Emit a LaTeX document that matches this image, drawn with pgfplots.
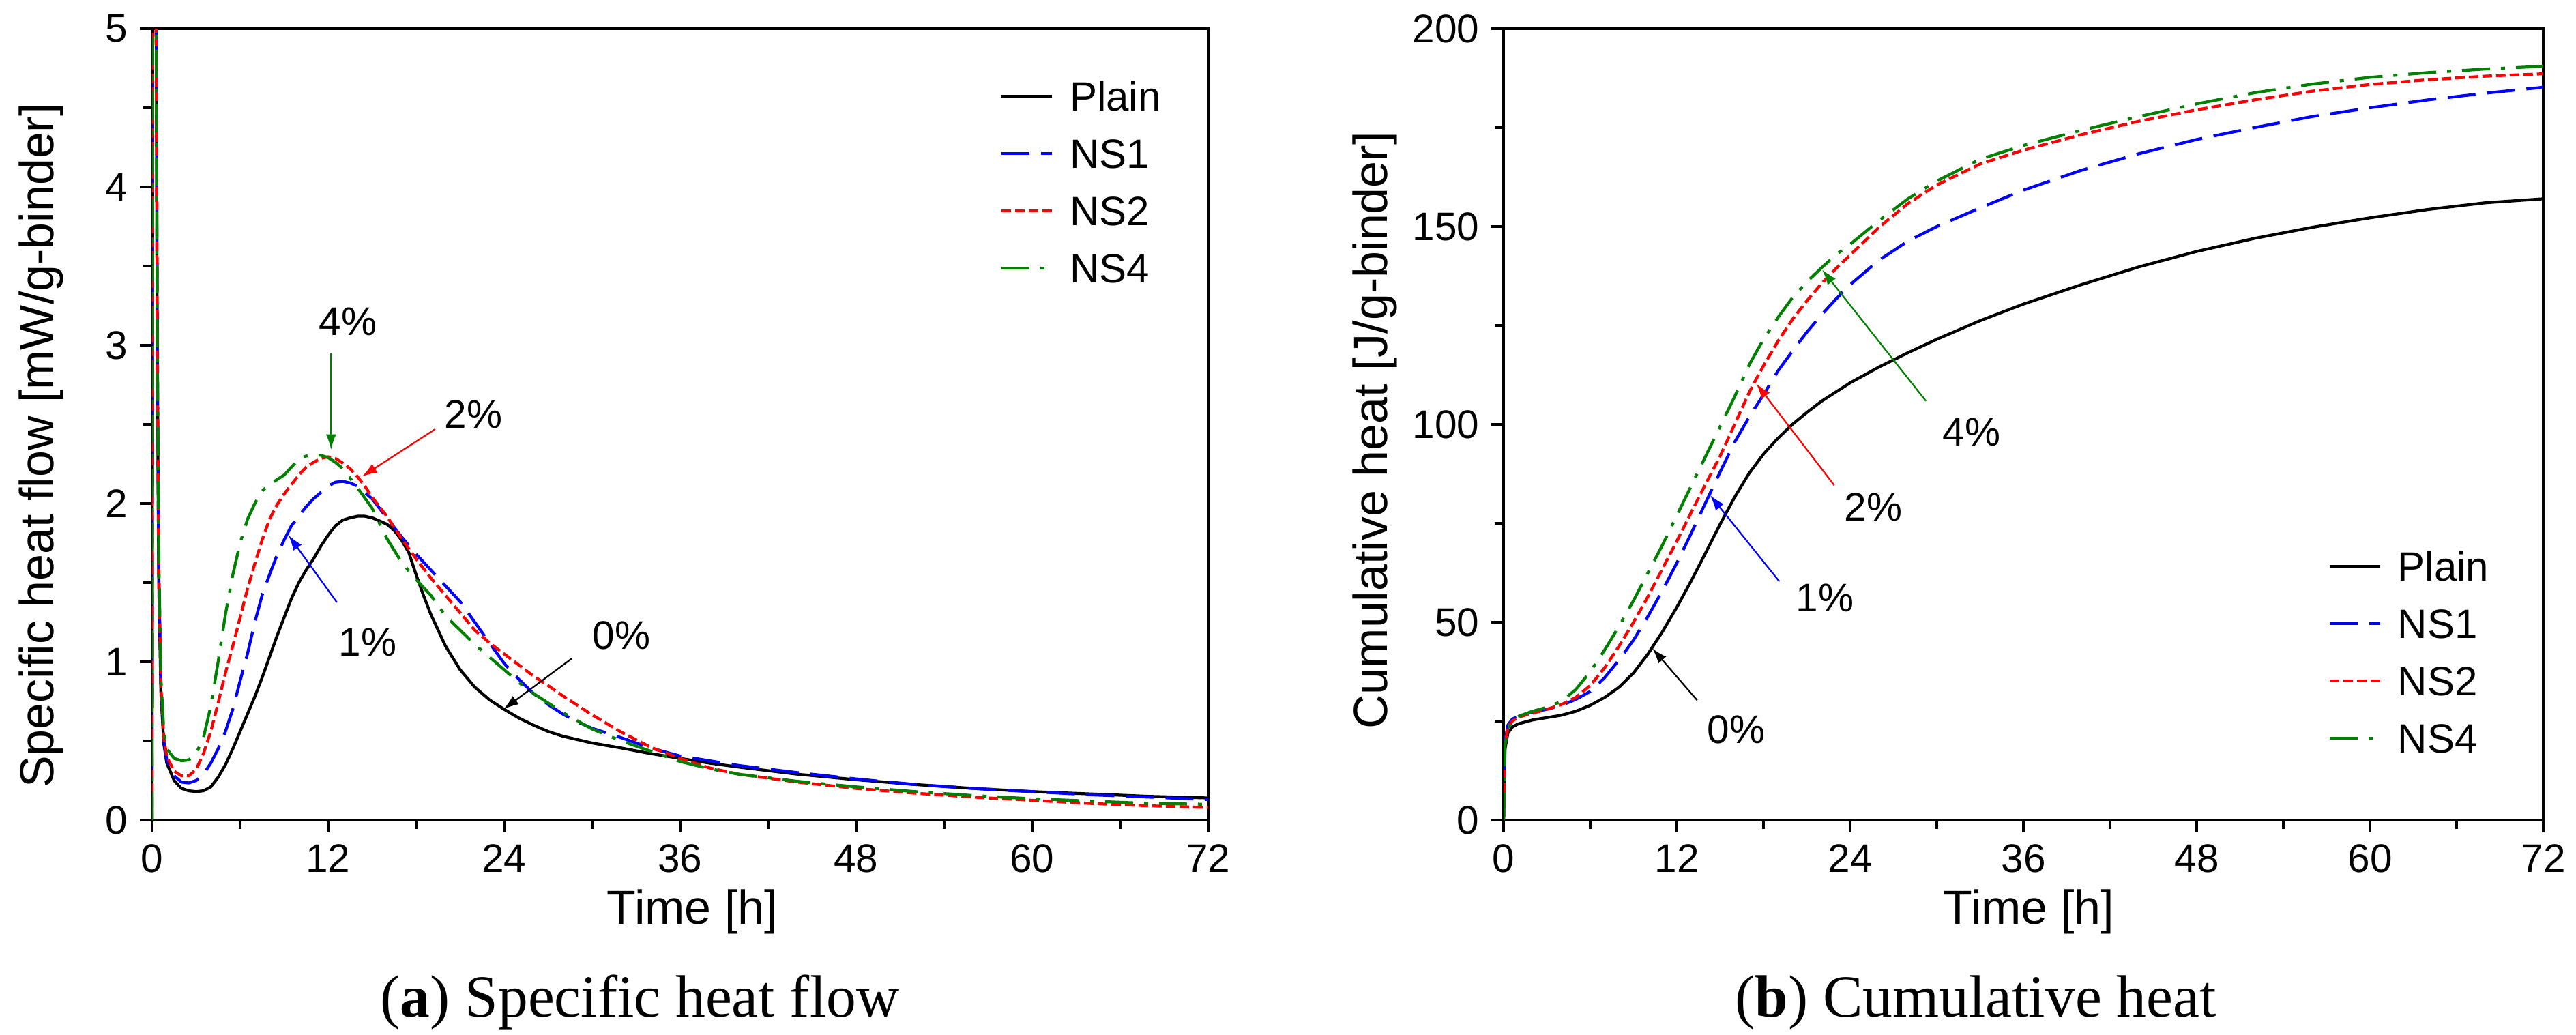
\documentclass[border=0pt]{standalone}
\usepackage{pgfplots}
\pgfplotsset{compat=1.18}
\usepackage{fontspec}
\setmainfont{Liberation Sans}
\newfontfamily\capfont{Liberation Serif}
\usetikzlibrary{arrows.meta}

\definecolor{cgreen}{RGB}{0,128,0}
\definecolor{cblue}{RGB}{0,0,255}
\definecolor{cred}{RGB}{255,0,0}

\tikzset{
  annot/.style={line width=0.45pt, -{Latex[length=4.5pt,width=3pt]}},
  pct/.style={font=\fontsize{11.7}{14}\selectfont},
}
\pgfplotsset{
  myaxis/.style={
    scale only axis,
    xmin=0, xmax=72,
    xtick={0,12,...,72},
    minor x tick num=1,
    minor y tick num=1,
    tick align=outside,
    tick pos=left,
    major tick length=3.6pt,
    minor tick length=2.6pt,
    axis line style={line width=0.9pt},
    every tick/.style={line width=0.9pt, black},
    tick label style={font=\fontsize{11.7}{14}\selectfont},
    /pgf/number format/assume math mode=true,
    legend cell align=left,
    legend style={draw=none, fill=none, inner sep=0pt, outer sep=0pt,
      row sep=8.2pt, column sep=4.8pt, anchor=north west,
      font=\fontsize{12}{14}\selectfont,
      nodes={inner sep=0pt, text height=8.6pt, text depth=0pt}},
  },
  plainst/.style={black, line width=0.85pt},
  nsone/.style={cblue, line width=0.85pt, dash pattern=on 8.2pt off 3.4pt},
  nstwo/.style={cred, line width=0.85pt, dash pattern=on 2.8pt off 1.2pt},
  nsfour/.style={cgreen, line width=0.85pt, dash pattern=on 8.2pt off 3.2pt on 1.2pt off 3.2pt},
}
\pgfplotsset{legend image code/.code={\draw[#1] (0pt,0pt) -- (14.8pt,0pt);}}

\begin{document}
\begin{tikzpicture}
\path[use as bounding box] (0,0) rectangle (755.2pt,303.2pt);

% ---------------- (a) Specific heat flow ----------------
\begin{axis}[myaxis,
  at={(44.6pt,62.8pt)}, anchor=south west,
  width=309.6pt, height=232pt,
  ymin=0, ymax=5, ytick={0,1,2,3,4,5},
  legend style={at={(axis cs:57.81,4.666)}},
]
\addplot[plainst] coordinates {(0,0) (0.05,6) (0.25,6) (0.35,3) (0.45,1.5) (0.6,0.8) (0.8,0.48) (1,0.36) (1.5,0.25) (2,0.2) (2.5,0.185) (3,0.18) (3.5,0.185) (4,0.21) (4.5,0.27) (5,0.35) (5.5,0.45) (6,0.56) (6.5,0.67) (7,0.78) (7.5,0.9) (8,1.03) (8.5,1.16) (9,1.28) (9.5,1.4) (10,1.5) (10.5,1.58) (11,1.65) (11.5,1.73) (12,1.8) (12.5,1.86) (13,1.895) (13.5,1.91) (14,1.92) (14.5,1.92) (15,1.91) (15.5,1.89) (16,1.87) (16.5,1.83) (17,1.77) (17.5,1.69) (18,1.55) (18.5,1.42) (19,1.3) (19.5,1.2) (20,1.1) (21,0.95) (22,0.84) (23,0.76) (24,0.7) (25,0.645) (26,0.6) (27,0.56) (28,0.53) (30,0.487) (32,0.455) (34,0.42) (36,0.39) (38,0.36) (40,0.335) (44,0.29) (48,0.255) (52,0.225) (56,0.2) (60,0.18) (64,0.165) (68,0.15) (72,0.14)};
\addlegendentry{Plain}
\addplot[nsone] coordinates {(0,0) (0.05,6) (0.25,6) (0.35,3) (0.45,1.6) (0.6,0.85) (0.8,0.5) (1,0.38) (1.5,0.28) (2,0.24) (2.5,0.235) (3,0.25) (3.5,0.29) (4,0.36) (4.5,0.45) (5,0.56) (5.5,0.7) (6,0.88) (6.5,1.05) (7,1.25) (7.5,1.42) (8,1.55) (8.5,1.67) (9,1.77) (9.5,1.86) (10,1.92) (10.5,1.98) (11,2.03) (11.5,2.07) (12,2.11) (12.5,2.135) (13,2.14) (13.5,2.13) (14,2.11) (14.5,2.07) (15,2.03) (16,1.91) (17,1.79) (18,1.68) (19,1.58) (20,1.48) (21,1.38) (22,1.25) (23,1.12) (24,0.99) (25,0.89) (26,0.8) (27,0.73) (28,0.67) (29,0.62) (30,0.58) (32,0.52) (34,0.455) (36,0.405) (38,0.375) (40,0.345) (44,0.3) (48,0.26) (52,0.225) (56,0.2) (60,0.18) (64,0.16) (68,0.145) (72,0.13)};
\addlegendentry{NS1}
\addplot[nstwo] coordinates {(0,0) (0.05,6) (0.25,6) (0.35,3) (0.45,1.6) (0.6,0.85) (0.8,0.52) (1,0.4) (1.5,0.31) (2,0.28) (2.5,0.28) (3,0.32) (3.5,0.42) (4,0.56) (4.5,0.74) (5,0.93) (5.5,1.1) (6,1.28) (6.5,1.46) (7,1.62) (7.5,1.77) (8,1.9) (8.5,1.99) (9,2.06) (9.5,2.12) (10,2.18) (10.5,2.23) (11,2.26) (11.5,2.285) (12,2.295) (12.5,2.285) (13,2.255) (13.5,2.22) (14,2.17) (14.5,2.11) (15,2.04) (16,1.92) (17,1.78) (18,1.65) (19,1.53) (20,1.42) (21,1.31) (22,1.2) (23,1.12) (24,1.05) (25,0.98) (26,0.91) (27,0.85) (28,0.785) (30,0.665) (32,0.555) (34,0.46) (36,0.39) (38,0.33) (40,0.29) (44,0.24) (48,0.2) (52,0.17) (56,0.145) (60,0.125) (64,0.105) (68,0.09) (72,0.08)};
\addlegendentry{NS2}
\addplot[nsfour] coordinates {(0,0) (0.05,6) (0.25,6) (0.35,3) (0.45,1.7) (0.6,0.9) (0.8,0.56) (1,0.45) (1.5,0.39) (2,0.375) (2.5,0.38) (3,0.42) (3.5,0.52) (4,0.72) (4.5,1.0) (5,1.3) (5.5,1.55) (6,1.75) (6.5,1.9) (7,2.0) (7.5,2.08) (8,2.12) (8.5,2.15) (9,2.18) (9.5,2.23) (10,2.28) (10.5,2.3) (11,2.305) (11.5,2.305) (12,2.29) (12.5,2.26) (13,2.22) (14,2.1) (15,1.97) (16,1.78) (17,1.63) (18,1.52) (19,1.42) (20,1.29) (21,1.2) (22,1.11) (23,1.03) (24,0.95) (25,0.87) (26,0.8) (27,0.74) (28,0.68) (30,0.575) (32,0.5) (34,0.435) (36,0.37) (38,0.325) (40,0.29) (44,0.245) (48,0.21) (52,0.18) (56,0.155) (60,0.135) (64,0.12) (68,0.105) (72,0.1)};
\addlegendentry{NS4}
\draw[annot, cgreen] (axis cs:12.2,2.95) -- (axis cs:12.2,2.34);
\node[pct] at (axis cs:13.35,3.15) {4\%};
\draw[annot, cred] (axis cs:19.3,2.47) -- (axis cs:14.3,2.17);
\node[pct] at (axis cs:21.9,2.565) {2\%};
\draw[annot, cblue] (axis cs:12.6,1.375) -- (axis cs:9.3,1.80);
\node[pct] at (axis cs:14.7,1.125) {1\%};
\draw[annot, black] (axis cs:28.6,1.02) -- (axis cs:23.95,0.70);
\node[pct] at (axis cs:32.0,1.168) {0\%};
\end{axis}

% ---------------- (b) Cumulative heat ----------------
\begin{axis}[myaxis,
  at={(440.8pt,62.8pt)}, anchor=south west,
  width=304.8pt, height=232pt,
  ymin=0, ymax=200, ytick={0,50,100,150,200},
  legend style={at={(axis cs:57.1,67.8)}},
]
\addplot[plainst] coordinates {(0,0) (0.1,18) (0.3,22) (0.6,23.5) (1,24.3) (2,25.3) (3,25.9) (4,26.5) (5,27.5) (6,29) (7,31) (8,33.6) (9,37.2) (10,42) (11,47.6) (12,53.8) (13,60.5) (14,67.6) (15,74.8) (16,81.6) (17,87.6) (18,92.5) (19,96.5) (20,100) (21,103) (22,105.8) (24,110.5) (26,114.5) (28,118.1) (30,121.5) (33,126.2) (36,130.4) (40,135.3) (44,139.8) (48,143.7) (52,147) (56,149.8) (60,152.2) (64,154.3) (68,156) (72,157)};
\addlegendentry{Plain}
\addplot[nsone] coordinates {(0,0) (0.1,20) (0.3,24) (0.6,25.5) (1,26.3) (2,27.3) (3,28) (4,29) (5,30.5) (6,32.5) (7,36) (8,40.5) (9,45.5) (10,51.5) (11,58) (12,65) (13,72.5) (14,80.3) (15,88) (16,95.5) (17,101.8) (18,107.5) (19,113.5) (20,118.5) (21,123.3) (22,127.6) (23,131.6) (24,135.3) (26,141.5) (28,146.3) (30,150) (33,154.7) (36,159.2) (40,164.2) (44,168.4) (48,172) (52,175) (56,177.8) (60,180) (64,182) (68,183.7) (72,185.2)};
\addlegendentry{NS1}
\addplot[nstwo] coordinates {(0,0) (0.1,19) (0.3,23.5) (0.6,25) (1,26) (2,27) (3,28) (4,29.2) (5,31) (6,34) (7,38.5) (8,44) (9,50) (10,56.5) (11,63.5) (12,70.5) (13,77.8) (14,85) (15,92) (16,100) (17,108) (17.5,111.5) (18,114.8) (19,121) (20,126.5) (21,131.2) (22,135.5) (23,139.3) (24,142.8) (26,149.8) (28,155.8) (30,160.5) (33,165.8) (36,169.3) (40,173.2) (44,176.6) (48,179.5) (52,182) (56,184.2) (60,185.9) (64,187.1) (68,188) (72,188.6)};
\addlegendentry{NS2}
\addplot[nsfour] coordinates {(0,0) (0.1,19) (0.3,23) (0.6,25) (1,26.2) (2,27.5) (3,28.5) (4,30) (5,33) (6,37.5) (7,43) (8,49) (9,55.5) (10,62.5) (11,69.5) (12,77) (13,84.5) (14,92) (15,99.5) (16,107) (17,115) (18,121.5) (19,127) (20,132) (21,136) (22,139.5) (23,142.8) (24,145.5) (26,151.5) (28,157) (30,161.5) (33,167) (36,170.5) (40,174.3) (44,177.8) (48,181) (52,183.8) (56,186) (60,187.7) (64,188.9) (68,189.8) (72,190.5)};
\addlegendentry{NS4}
\draw[annot, cgreen] (axis cs:29.25,105.9) -- (axis cs:22.06,139.1);
\node[pct] at (axis cs:32.4,98.0) {4\%};
\draw[annot, cred] (axis cs:22.9,84.6) -- (axis cs:17.5,110.3);
\node[pct] at (axis cs:25.6,79.1) {2\%};
\draw[annot, cblue] (axis cs:19.1,60.3) -- (axis cs:14.3,82.1);
\node[pct] at (axis cs:22.25,56.2) {1\%};
\draw[annot, black] (axis cs:13.4,30.3) -- (axis cs:10.3,43.4);
\node[pct] at (axis cs:16.1,22.9) {0\%};
\end{axis}

% axis labels
\node[font=\fontsize{14}{16}\selectfont, anchor=base] at (203pt,32.4pt) {Time [h]};
\node[font=\fontsize{14}{16}\selectfont, anchor=base] at (594.8pt,32.4pt) {Time [h]};
\node[font=\fontsize{14}{16}\selectfont, rotate=90] at (12pt,172.6pt) {Specific heat flow [mW/g-binder]};
\node[font=\fontsize{14}{16}\selectfont, rotate=90] at (403pt,177pt) {Cumulative heat [J/g-binder]};
% captions
\node[font=\capfont\fontsize{17.5}{20}\selectfont, anchor=base] at (187.6pt,5.2pt) {(\textbf{a}) Specific heat flow};
\node[font=\capfont\fontsize{17.5}{20}\selectfont, anchor=base] at (579.2pt,5.2pt) {(\textbf{b}) Cumulative heat};
\end{tikzpicture}
\end{document}
